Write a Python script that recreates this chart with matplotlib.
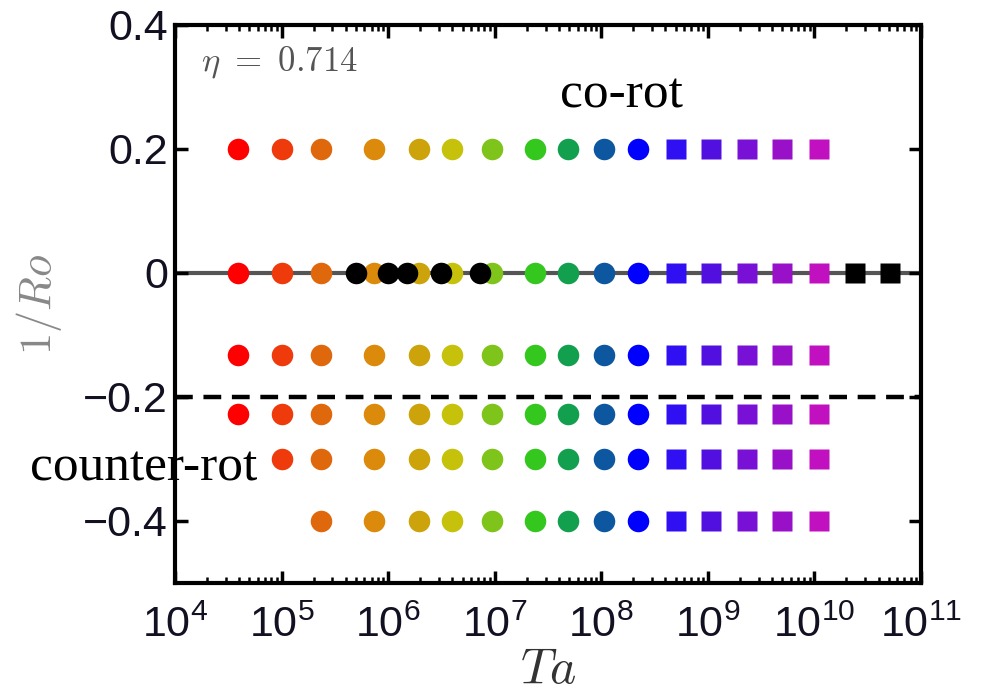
import matplotlib
matplotlib.use("Agg")
import matplotlib.pyplot as plt
import numpy as np
from matplotlib.ticker import LogLocator, FixedLocator, FuncFormatter, NullFormatter

plt.rcParams['font.family'] = ['Liberation Sans', 'DejaVu Sans']
plt.rcParams['mathtext.fontset'] = 'cm'

# Ta values of the coloured series (one colour per Ta)
ta_values = [3.9e4, 1.0e5, 2.35e5, 7.3e5, 1.95e6, 4.0e6, 9.5e6, 2.4e7, 4.9e7,
             1.05e8, 2.2e8, 5.0e8, 1.07e9, 2.35e9, 5.0e9, 1.1e10]
colors = ['#ff0000', '#ef3a0c', '#e0680c', '#db8a0c', '#cca30a', '#c6c20c',
          '#7fc41a', '#34c81f', '#12a04e', '#0d57a0', '#0000ff', '#3010f2',
          '#5210e0', '#7810d6', '#9810c8', '#c010c0']
markers = ['o'] * 11 + ['s'] * 5

# rows of 1/Ro and the index of the first Ta present in each row
inv_ro_rows = [0.2, 0.0, -0.132, -0.228, -0.30, -0.40]
row_start = [0, 0, 0, 0, 1, 2]

# extra black points at 1/Ro = 0
black_circ_ta = [5.0e5, 1.0e6, 1.5e6, 3.1e6, 7.2e6]
black_sq_ta = [2.4e10, 5.1e10]

fig = plt.figure(figsize=(9.81, 6.98), dpi=100)
ax = fig.add_axes([0.1784, 0.1648, 0.7604, 0.7994])

ax.axhline(0, color='#555555', lw=3, zorder=1)
ax.axhline(-0.2, color='black', lw=3.2, ls=(0, (4, 2.4)), zorder=1)

for y, s in zip(inv_ro_rows, row_start):
    for i in range(s, len(ta_values)):
        ms = 15.5 if markers[i] == 'o' else 14
        ax.plot(ta_values[i], y, marker=markers[i], color=colors[i], ms=ms,
                mec='none', ls='none', zorder=2)

for t in black_circ_ta:
    ax.plot(t, 0, marker='o', color='black', ms=15.5, mec='none', ls='none', zorder=3)
for t in black_sq_ta:
    ax.plot(t, 0, marker='s', color='black', ms=14, mec='none', ls='none', zorder=3)

ax.set_xscale('log')
ax.set_xlim(1e4, 1e11)
ax.set_ylim(-0.5, 0.4)

ax.xaxis.set_major_locator(LogLocator(base=10, numticks=20))
ax.xaxis.set_minor_locator(LogLocator(base=10, subs=np.arange(2, 10), numticks=20))
ax.xaxis.set_minor_formatter(NullFormatter())
ax.xaxis.set_major_formatter(FuncFormatter(lambda v, p: r'$\mathdefault{10^{%d}}$' % int(round(np.log10(v)))))
ax.yaxis.set_major_locator(FixedLocator([-0.4, -0.2, 0, 0.2, 0.4]))
ax.yaxis.set_major_formatter(FuncFormatter(lambda v, p: '0' if abs(v) < 1e-9 else ('%.1f' % v).replace('-', '\u2212')))

ax.tick_params(which='both', direction='in', top=True, right=True, width=2.5, colors='black',
               labelcolor='#111122')
ax.tick_params(which='major', length=9, labelsize=31)
ax.tick_params(axis='x', which='major', pad=16)
ax.tick_params(axis='y', which='major', pad=5)
ax.tick_params(which='minor', length=4, width=1.8)
for sp in ax.spines.values():
    sp.set_linewidth(3)

ax.set_xlabel(r'$Ta$', fontsize=36, color='#333333', labelpad=1)
ax.set_ylabel(r'$1/Ro$', fontsize=32, color='#888888', labelpad=14)

ax.text(0.035, 0.965, r'$\eta\ =\ 0.714$', transform=ax.transAxes, fontsize=25,
        color='#555555', va='top', ha='left')
fig.text(560 / 981, 1 - 95 / 698, 'co-rot', fontsize=37, family='Liberation Serif',
         va='center', ha='left', color='black')
fig.text(30 / 981, 1 - 468 / 698, 'counter-rot', fontsize=37, family='Liberation Serif',
         va='center', ha='left', color='black', zorder=10)

fig.savefig('out.png', dpi=100)
